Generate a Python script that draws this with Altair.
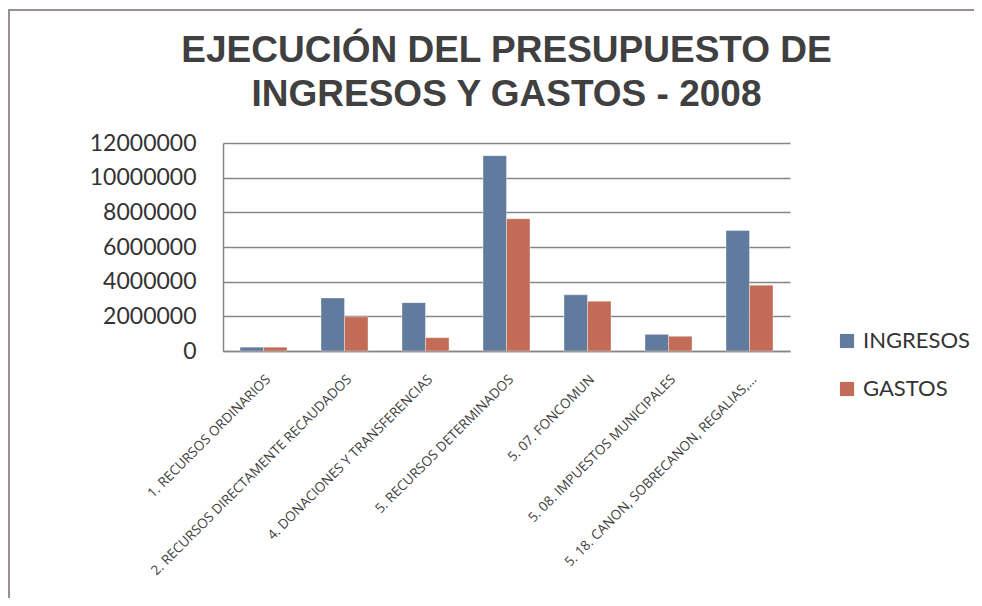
import altair as alt
import pandas as pd

categories = [
    "1. RECURSOS ORDINARIOS",
    "2. RECURSOS DIRECTAMENTE RECAUDADOS",
    "4. DONACIONES Y TRANSFERENCIAS",
    "5. RECURSOS DETERMINADOS",
    "5. 07. FONCOMUN",
    "5. 08. IMPUESTOS MUNICIPALES",
    "5. 18. CANON, SOBRECANON, REGALIAS,...",
]
ingresos = [220000, 3060000, 2790000, 11270000, 3240000, 960000, 6950000]
gastos = [220000, 1970000, 770000, 7630000, 2870000, 850000, 3800000]
series = ["INGRESOS", "GASTOS"]
colors = ["#607b9d", "#c26b57"]

rows = []
for c, a, b in zip(categories, ingresos, gastos):
    rows.append({"cat": c, "serie": "INGRESOS", "valor": a})
    rows.append({"cat": c, "serie": "GASTOS", "valor": b})
df = pd.DataFrame(rows)

bars = alt.Chart(df).mark_bar(stroke="white", strokeWidth=0.6, strokeOpacity=0.6).encode(
    x=alt.X("cat:N", sort=categories, title=None,
            scale=alt.Scale(paddingInner=0.42, paddingOuter=0.21),
            axis=alt.Axis(labelAngle=-45, labelFont="Open Sans", labelFontSize=13.5,
                          labelColor="#404040", labelLimit=400, ticks=False,
                          labelPadding=21, domainColor="#8c8482", domainWidth=1.5)),
    xOffset=alt.XOffset("serie:N", sort=series, scale=alt.Scale(paddingInner=0, paddingOuter=0)),
    y=alt.Y("valor:Q", title=None,
            scale=alt.Scale(domain=[0, 12000000]),
            axis=alt.Axis(values=[0, 2000000, 4000000, 6000000, 8000000, 10000000, 12000000],
                          format="d", labelFont="Lato", labelFontSize=23, labelColor="#333333",
                          ticks=False, labelPadding=27, gridColor="#8c8482", gridWidth=1.5,
                          domainColor="#8c8482", domainWidth=1.5)),
    color=alt.Color("serie:N", sort=series,
                    scale=alt.Scale(domain=series, range=colors),
                    legend=alt.Legend(title=None, orient="none", legendX=613, legendY=187,
                                      symbolType="square", symbolSize=200, symbolStrokeWidth=0,
                                      labelFont="Lato", labelFontSize=22, labelColor="#333333",
                                      rowPadding=26, labelOffset=5)),
)

border_v = alt.Chart().mark_rule(color="#9a908e", strokeWidth=2).encode(
    x=alt.value(-214), y=alt.value(-133), y2=alt.value(480))
border_h = alt.Chart().mark_rule(color="#9a908e", strokeWidth=2).encode(
    x=alt.value(-215), x2=alt.value(780), y=alt.value(-133))

chart = alt.layer(border_v, border_h, bars).properties(
    width=567,
    height=208,
    title=alt.Title(["EJECUCIÓN DEL PRESUPUESTO DE", "INGRESOS Y GASTOS - 2008"],
                    font="Liberation Sans", fontSize=37, fontWeight="bold",
                    color="#404040", lineHeight=44, anchor="middle", frame="group",
                    offset=-105),
    autosize=alt.AutoSizeParams(type="none"),
    padding={"left": 215, "top": 135, "right": 184, "bottom": 247},
).configure_view(stroke=None)

chart.save("out.html", embed_options={"renderer": "svg", "actions": False})
